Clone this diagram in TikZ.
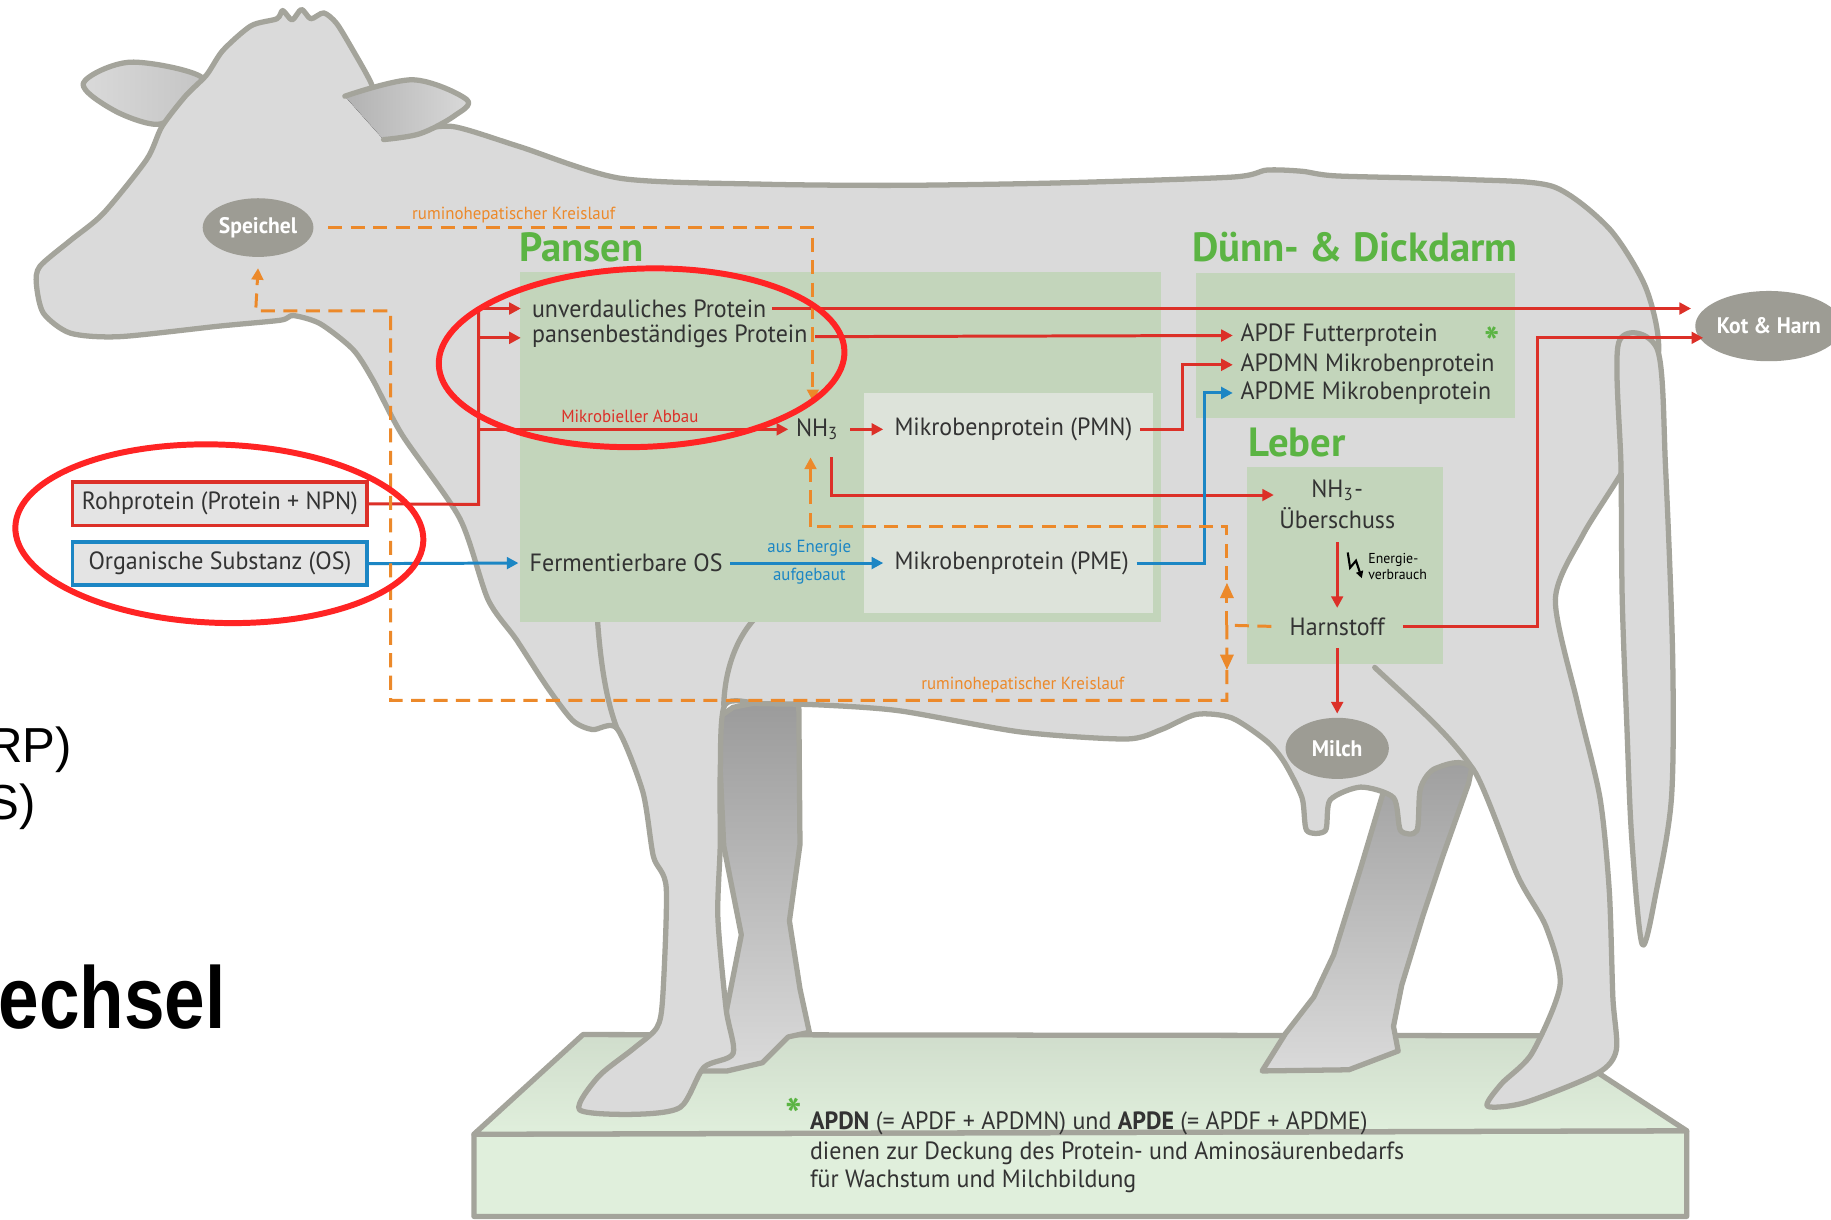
\documentclass[tikz,border=0pt]{standalone}
\usepackage{fontspec}
\setmainfont{PT Sans}[FakeStretch=0.96]
\newfontfamily\ttlfont{PT Sans}[FakeStretch=1.0]
\newfontfamily\arialf{Liberation Sans}
\newfontfamily\arialn{Liberation Sans}[FakeStretch=0.83]
\usetikzlibrary{arrows.meta,shapes.geometric,calc}
\definecolor{cowfill}{HTML}{DADADA}
\definecolor{cowedge}{HTML}{A4A49B}
\definecolor{boxgreen}{HTML}{C3D5BB}
\definecolor{boxlight}{HTML}{DDE3DA}
\definecolor{titlegreen}{HTML}{5BB443}
\definecolor{ellgray}{HTML}{9D9C94}
\definecolor{myred}{HTML}{DC3028}
\definecolor{myblue}{HTML}{1C86C4}
\definecolor{myorange}{HTML}{EC892A}
\definecolor{annred}{HTML}{FF2424}
\definecolor{txtcol}{HTML}{333333}
\definecolor{basefront}{HTML}{E0EFDC}
\definecolor{basetop}{HTML}{D0DDCC}
\definecolor{boxgray}{HTML}{E4E4E4}
\definecolor{legdark}{HTML}{9B9B9B}
\begin{document}
\begin{tikzpicture}[x=0.01173cm,y=-0.01173cm,
  cow/.style={draw=cowedge,line width=1.5pt,fill=cowfill,line join=round},
  inline/.style={draw=cowedge,line width=1.5pt,line cap=round},
  txt/.style={font=\fontsize{7.1}{8.5}\selectfont,text=txtcol,inner sep=0pt},
  tinyl/.style={font=\fontsize{5}{6}\selectfont,inner sep=0pt},
  ttl/.style={font=\ttlfont\fontsize{11.6}{13}\selectfont\bfseries,text=titlegreen,inner sep=0pt},
  ell/.style={ellipse,fill=ellgray,text=white,font=\fontsize{6.4}{7}\selectfont\bfseries,inner sep=0pt},
  rline/.style={draw=myred,line width=0.85pt},
  rarr/.style={rline,-{Triangle[length=3.3pt,width=3.3pt]}},
  barr/.style={draw=myblue,line width=0.85pt,-{Triangle[length=3.3pt,width=3.3pt]}},
  odash/.style={draw=myorange,line width=0.85pt,dash pattern=on 4pt off 2.4pt},
  oarr/.style={odash,-{Triangle[length=3.3pt,width=3.3pt]}},
  annot/.style={draw=annred,line width=1.7pt},
  inbox/.style={draw,line width=1pt,fill=boxgray,minimum width=83.8pt,minimum height=12.3pt,inner sep=0pt,font=\fontsize{7.1}{8.5}\selectfont,text=txtcol}
]
\useasboundingbox (0,0) rectangle (1561,1039.3);
\fill[white] (0,0) rectangle (1561,1039.3);

% slide fragments (cut by the left edge)
\begin{scope}
\clip (0,0) rectangle (1561,1039.3);
\node[anchor=base east,inner sep=0pt,font=\arialf\fontsize{14}{16}\selectfont] (frag1) at (62,650) {RP)};
\node[anchor=base east,inner sep=0pt,font=\arialf\fontsize{14}{16}\selectfont] (frag2) at (31,699) {S)};
\node[anchor=base east,inner sep=0pt,font=\arialn\bfseries\fontsize{25}{28}\selectfont] (frag3) at (193,877) {echsel};
\end{scope}

% base
\draw[cow,fill=basefront] (404,967) -- (1438,964) -- (1438,1037) -- (404,1037) -- cycle;
\draw[cow,top color=basetop,bottom color=basefront] (497,882) -- (1314,883) -- (1438,964) -- (404,967) -- cycle;

% far legs
\draw[cow,top color=legdark,bottom color=cowfill] (612,612) -- (625,603) -- (650,598) -- (681,598) -- (682,720) -- (673,785) -- (682,843) -- (690,880) -- (672,884) -- (650,906) -- (620,913) -- (598,913) -- (616,882) -- (620,858) -- (632,797) -- (617,721) -- cycle;
\draw[cow,top color=legdark,bottom color=cowfill] (1180,630) -- (1256,648) -- (1252,668) -- (1230,730) -- (1213,781) -- (1195,840) -- (1188,875) -- (1192,896) -- (1150,912) -- (1076,913) -- (1096,881) -- (1120,850) -- (1137,814) -- (1160,740) -- (1180,673) -- cycle;

% left ear (behind head)
\draw[cow,left color=cowfill,right color=cowfill!75!gray] plot[smooth cycle,tension=0.55] coordinates {(172,66) (111,53) (71,71) (97,94) (134,106) (155,92)};

% cow body
\draw[cow] plot[smooth cycle,tension=0.45] coordinates {
(176,64) (190,43) (214,22) (236,16) (241,9) (249,17) (257,8) (265,16) (276,11) (287,20) (301,43) (316,70) (328,100) (350,110) (387,108) (443,125) (529,152) (650,157) (767,158) (900,156) (1050,151) (1080,145) (1110,146) (1140,150) (1250,153) (1324,159) (1372,195) (1403,245) (1414,300) (1395,380) (1350,455) (1326,511) (1345,600) (1364,680) (1372,760) (1375,850) (1378,895) (1362,915) (1300,940) (1268,943) (1280,924) (1306,898) (1330,840) (1318,790) (1294,747) (1256,656) (1224,655) (1211,672) (1208,708) (1194,708) (1188,680) (1160,671) (1134,682) (1130,708) (1114,708) (1110,680) (1095,650) (1080,632) (1050,612) (1020,609) (990,622) (960,630) (870,624) (767,606) (700,601) (650,600) (618,601) (614,660) (614,721) (612,782) (619,860) (625,898) (600,910) (580,944) (540,950) (494,946) (510,918) (540,894) (560,876) (565,850) (568,757) (557,730) (548,675) (526,621) (505,622) (488,614) (466,585) (440,545) (416,511) (392,442) (343,371) (318,324) (301,298) (273,276) (250,269) (239,273) (187,278) (102,287) (60,284) (37,267) (31,242) (34,227) (60,205) (88,182) (125,136) (138,108) (158,82)};

% right ear (in front of head)
\fill[left color=cowfill!55!gray,right color=cowfill] plot[smooth,tension=0.55] coordinates {(294,82) (352,68) (398,85) (387,99) (358,114) (327,119)} -- (310,100) -- cycle;
\draw[inline,line join=round] plot[smooth,tension=0.55] coordinates {(294,82) (352,68) (398,85) (387,99) (358,114) (327,119)};

% inner contour lines
\draw[inline] (509,523) .. controls (512,570) and (518,600) .. (526,621);
\draw[inline] (642,529) .. controls (628,545) and (618,570) .. (617,601);
\draw[inline] (1172,569) .. controls (1205,600) and (1235,625) .. (1256,656);

% tail
\draw[cow] plot[smooth cycle,tension=0.5] coordinates {(1380,292) (1382,400) (1383,511) (1387,620) (1391,713) (1400,805) (1412,760) (1425,680) (1426,560) (1420,400) (1413,298)};

% green boxes
\fill[boxgreen] (443,232) rectangle (990,530);
\fill[boxlight] (737,335) rectangle (983,523);
\fill[boxgreen] (1020,233) rectangle (1292,356);
\fill[boxgreen] (1063,398) rectangle (1230,566);

% titles
\node[ttl,anchor=west] (tpan) at (442,211) {Pansen};
\node[ttl] (tdarm) at (1155,211) {Dünn- \& Dickdarm};
\node[ttl,anchor=west] (tleb) at (1064,377) {Leber};

% ellipses
\node[ell,minimum width=29.4pt,minimum height=16.7pt] (spei) at (220,194) {Speichel};
\node[ell,minimum width=35.4pt,minimum height=20pt] (kot) at (1508,278) {Kot \& Harn};
\node[ell,minimum width=29.4pt,minimum height=17.4pt] (milch) at (1140,638) {Milch};

% input boxes
\node[inbox,draw=myred] (roh) at (187.5,429.5) {Rohprotein (Protein + NPN)};
\node[inbox,draw=myblue] (org) at (187.5,480.5) {Organische Substanz (OS)};

% texts
\node[txt,anchor=west] (unv) at (453,263) {unverdauliches Protein};
\node[txt,anchor=west] (pan) at (453,287) {pansenbeständiges Protein};
\node[txt] (nh3) at (697,366) {NH\textsubscript{3}};
\node[txt,anchor=west] (pmn) at (762,366) {Mikrobenprotein (PMN)};
\node[txt,anchor=west] (ferm) at (451,480) {Fermentierbare OS};
\node[txt,anchor=west] (pme) at (762,480) {Mikrobenprotein (PME)};
\node[tinyl,text=myblue] (ausE) at (690,467) {aus Energie};
\node[tinyl,text=myblue] (aufg) at (690,491) {aufgebaut};
\node[tinyl,text=myred] (mikab) at (537,355) {Mikrobieller Abbau};
\node[tinyl,text=myorange] (rk1) at (438,183) {ruminohepatischer Kreislauf};
\node[tinyl,text=myorange] (rk2) at (872,584) {ruminohepatischer Kreislauf};
\node[txt,anchor=west] (apdf) at (1057,286) {APDF Futterprotein};
\node[txt,anchor=west] (apdmn) at (1057,311) {APDMN Mikrobenprotein};
\node[txt,anchor=west] (apdme) at (1057,335) {APDME Mikrobenprotein};
\node[inner sep=0pt,text=titlegreen,font=\fontsize{12}{12}\selectfont\bfseries] (star1) at (1272,292) {*};
\node[txt] (nhu) at (1140,418) {NH\textsubscript{3}-};
\node[txt] (ueb) at (1140,442) {Überschuss};
\node[txt] (harn) at (1140,534) {Harnstoff};
\node[inner sep=0pt,font=\fontsize{4.1}{4.5}\selectfont,align=left,anchor=west] (energ) at (1166,483) {Energie-\\verbrauch};
\node[inner sep=0pt,text=titlegreen,font=\fontsize{13}{13}\selectfont\bfseries] (star2) at (677,950) {*};
\node[txt,anchor=west] (b1) at (690,958) {\textbf{APDN} (= APDF + APDMN) und \textbf{APDE} (= APDF + APDME)};
\node[txt,anchor=west] (b2) at (690,983) {dienen zur Deckung des Protein- und Aminosäurenbedarfs};
\node[txt,anchor=west] (b3) at (690,1007) {für Wachstum und Milchbildung};

% lightning
\draw[black,line width=0.6pt,-{Triangle[length=2pt,width=2pt]}] (1149,471) -- (1151,484) -- (1156,478) -- (1161,493);

% red connectors
\coordinate (tT) at (408,263);
\coordinate (tP) at (408,288);
\coordinate (tN) at (408,366);
\coordinate (tB) at (408,430);
\coordinate (pmnc) at (1008,366);
\coordinate (nhd) at (709,390);
\coordinate (uebin) at (1086,422);
\coordinate (harnc) at (1311,534);
\coordinate (kotin2) at (1452,288);
\draw[rline] (roh.east) -- (tB) -- (tT);
\draw[rarr] (tT) -- ([xshift=-3pt]unv.west);
\draw[rarr] (tP) -- ([xshift=-3pt]pan.west |- tP);
\draw[rarr] (tN) -- ([xshift=-2pt]nh3.west);
\draw[rarr] ([xshift=1.5pt]unv.east) -- ([xshift=-1pt]kot.west |- unv.east);
\draw[rarr] ([xshift=2pt]pan.east) -- ([xshift=-2pt]apdf.west);
\draw[rarr] ([xshift=3pt]nh3.east) -- ([xshift=-3pt]pmn.west);
\draw[rarr] ([xshift=2pt]pmn.east) -- (pmnc) |- ([xshift=-2pt]apdmn.west);
\draw[rarr] (nhd) |- (uebin);
\draw[rarr] ([yshift=-3.5pt]ueb.south) -- ([yshift=2.5pt]harn.north);
\draw[rarr] ([xshift=5pt]harn.east) -- (harnc) |- (kotin2);
\draw[rarr] ([yshift=-3.5pt]harn.south) -- ([yshift=1pt]milch.north);

% blue connectors
\coordinate (pmec) at (1027,480);
\draw[barr] (org.east) -- ([xshift=-3pt]ferm.west);
\draw[barr] ([xshift=2pt]ferm.east) -- ([xshift=-3pt]pme.west);
\draw[barr] ([xshift=2pt]pme.east) -- (pmec) |- ([xshift=-2pt]apdme.west);

% orange dashed connectors
\coordinate (oT) at (693,194);
\coordinate (oN) at (693,342);
\coordinate (hj) at (1046,533);
\coordinate (oU) at (1046,449);
\coordinate (oL) at (691,449);
\coordinate (oD) at (1046,597);
\draw[oarr] ([xshift=4pt]spei.east) -- (oT) -- (oN);
\draw[odash] ([xshift=-5pt]harn.west) -- (hj);
\draw[odash] (hj) -- (oU) -- (oL);
\draw[oarr] (oL) -- (691,390);
\draw[oarr] (hj) -- (oD) -- (333,597) -- (333,265) -- (218,265) -- ([yshift=-3pt]spei.south);
\fill[myorange] (1040,510) -- (1052,510) -- (1046,497) -- cycle;
\fill[myorange] (1040,558) -- (1052,558) -- (1046,571) -- cycle;

% annotation ellipses
\draw[annot,rotate around={2:(547,305)}] (547,305) ellipse [x radius=173,y radius=76];
\draw[annot,rotate around={-2:(187,455)}] (187,455) ellipse [x radius=174,y radius=76];
\end{tikzpicture}
\end{document}
